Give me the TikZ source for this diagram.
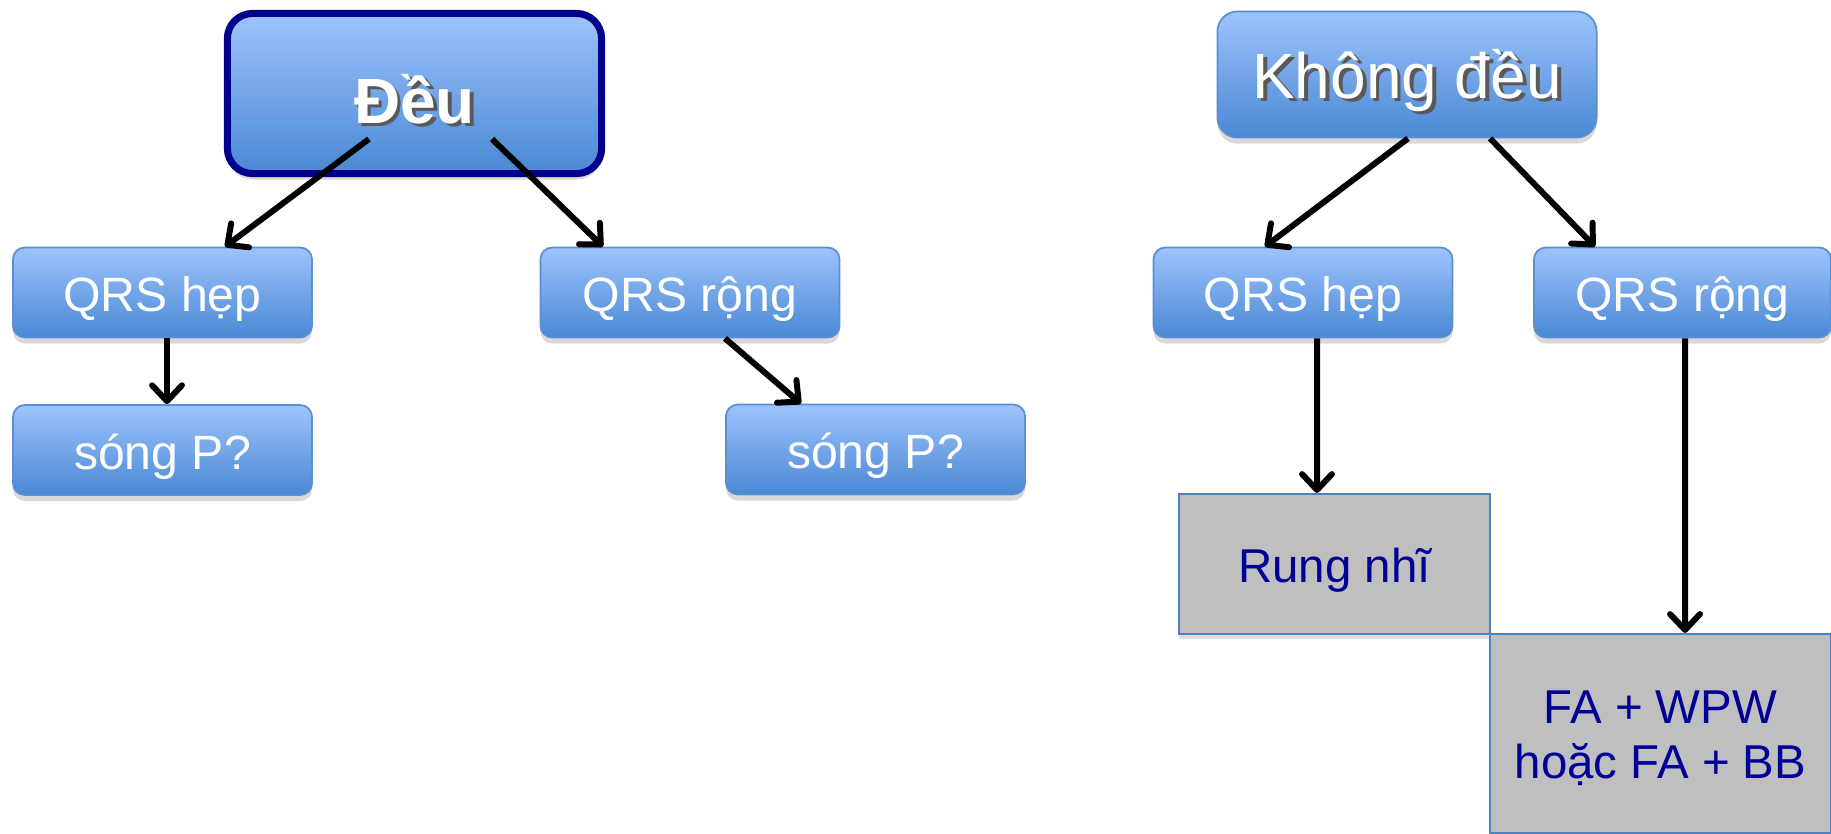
\documentclass[tikz,border=0pt]{standalone}
\usepackage{fontspec}
\setmainfont{Liberation Sans}
\usetikzlibrary{arrows.meta,shadows}
\definecolor{boxtop}{HTML}{9DC3FC}
\definecolor{boxbot}{HTML}{4A88D4}
\definecolor{boxline}{HTML}{5A8FD2}
\definecolor{navyline}{HTML}{00008C}
\definecolor{cellgray}{HTML}{BFBFBF}
\definecolor{cellline}{HTML}{4F81BD}
\definecolor{cellblue}{HTML}{000096}
\newcommand{\txtshadow}[1]{\makebox[0pt][l]{\hspace{1.1pt}\raisebox{-1.1pt}{\color{black!65}#1}}#1}

\begin{document}
\begin{tikzpicture}[x=0.01cm,y=-0.01cm,
  blu/.style={rectangle,rounded corners=0.12cm,draw=boxline,line width=0.5pt,
              top color=boxtop,bottom color=boxbot,text=white,
              minimum width=2.99cm,minimum height=0.9cm,
              text height=0.48cm,text depth=0.1cm,
              font=\fontsize{13.7}{15.4}\selectfont,
              drop shadow={opacity=0.3,shadow xshift=0pt,shadow yshift=-0.06cm}},
  gry/.style={rectangle,draw=cellline,line width=0.6pt,fill=cellgray,
              text=cellblue,font=\fontsize{13.5}{15.6}\selectfont,align=center,
              text height=0.46cm,text depth=0.1cm,
              drop shadow={opacity=0.25,shadow xshift=0pt,shadow yshift=-0.05cm}},
  arr/.style={line width=1.7pt,-{Straight Barb[length=4.5pt,width=8.5pt,round]}}
]
\useasboundingbox (0,0) rectangle (1831,833);

% ---- Left tree ---------------------------------------------
\node[blu,draw=navyline,line width=2pt,rounded corners=0.25cm,
      minimum width=3.74cm,minimum height=1.6cm,
      text height=0.72cm,text depth=0.13cm,
      font=\fontsize{18.2}{20}\selectfont\bfseries]
  (deu) at (414.5,93.5) {\txtshadow{Đều}};
\node[blu] (qhl) at (162.5,292.5) {QRS hẹp};
\node[blu] (qrl) at (690,292.5)   {QRS rộng};
\node[blu] (spl) at (162.5,450)   {sóng P?};
\node[blu] (spr) at (875.5,449.5) {sóng P?};

% ---- Right tree --------------------------------------------
\node[blu,rounded corners=0.2cm,minimum width=3.79cm,minimum height=1.26cm,
      text height=0.6cm,text depth=0.13cm,
      font=\fontsize{18.2}{20}\selectfont]
  (kdu) at (1407,74.5) {\txtshadow{Không đều}};
\node[blu] (qhr) at (1303,292.5) {QRS hẹp};
\node[blu,minimum width=2.97cm] (qrr) at (1682.5,292.5) {QRS rộng};

\node[gry,minimum width=3.11cm,minimum height=1.4cm]
  (rng) at (1334.5,564) {Rung nhĩ};
\node[gry,minimum width=3.41cm,minimum height=1.99cm,text height=0.99cm]
  (fab) at (1660.5,733.5) {FA + WPW\\hoặc FA + BB};

% ---- Arrows ------------------------------------------------
\draw[arr] ([xshift=-0.455cm,yshift=-0.455cm]deu.center) -- ([xshift=0.625cm]qhl.north);
\draw[arr] ([xshift=0.775cm,yshift=-0.455cm]deu.center)  -- ([xshift=-0.87cm]qrl.north);
\draw[arr] ([xshift=0.045cm]qhl.south) -- ([xshift=0.045cm]spl.north);
\draw[arr] ([xshift=0.35cm]qrl.south)  -- ([xshift=-0.745cm]spr.north);
\draw[arr] ([xshift=0.01cm]kdu.south)  -- ([xshift=-0.38cm]qhr.north);
\draw[arr] ([xshift=0.83cm]kdu.south)  -- ([xshift=-0.875cm]qrr.north);
\draw[arr] ([xshift=0.14cm]qhr.south)  -- ([xshift=-0.175cm]rng.north);
\draw[arr] ([xshift=0.025cm]qrr.south) -- ([xshift=0.245cm]fab.north);

\end{tikzpicture}
\end{document}
